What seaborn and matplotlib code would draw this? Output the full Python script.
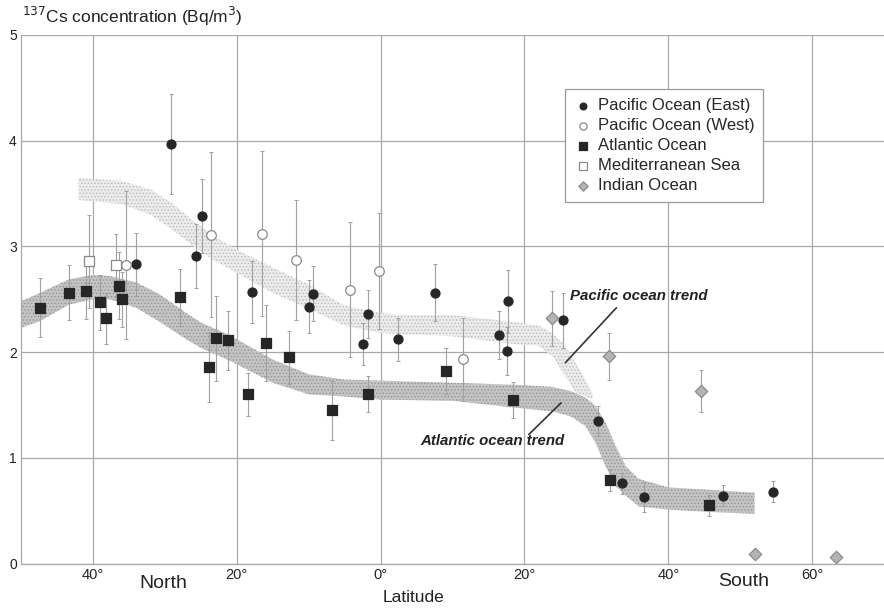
import numpy as np
import pandas as pd
import matplotlib
matplotlib.use('Agg')
import matplotlib.pyplot as plt
import seaborn as sns

# Measured 137Cs concentrations (Bq/m3) vs latitude (north negative, south positive)
pac_east_lat = [-29.1, -34.0, -24.8, -25.6, -17.9, -9.4, -9.9, -1.8, -2.5, 2.4,
                7.5, 16.5, 17.7, 17.6, 25.3, 30.3, 33.5, 36.6, 47.6, 54.6]
pac_east_val = [3.97, 2.83, 3.29, 2.91, 2.57, 2.55, 2.43, 2.36, 2.08, 2.12,
                2.56, 2.16, 2.48, 2.01, 2.30, 1.35, 0.76, 0.63, 0.64, 0.68]
pac_east_err = [0.47, 0.30, 0.35, 0.30, 0.29, 0.26, 0.25, 0.23, 0.20, 0.20,
                0.27, 0.23, 0.30, 0.23, 0.26, 0.14, 0.10, 0.14, 0.10, 0.10]

pac_west_lat = [-35.4, -23.6, -16.5, -11.7, -4.3, -0.25, 11.4]
pac_west_val = [2.82, 3.11, 3.12, 2.87, 2.59, 2.77, 1.93]
pac_west_err = [0.70, 0.78, 0.78, 0.57, 0.64, 0.55, 0.39]

atl_lat = [-47.4, -43.3, -41.0, -39.0, -38.2, -36.4, -36.0, -27.9, -23.9, -22.9,
           -21.2, -18.5, -16.0, -12.8, -6.8, -1.8, 9.1, 18.4, 31.9, 45.6]
atl_val = [2.42, 2.56, 2.58, 2.47, 2.32, 2.63, 2.50, 2.52, 1.86, 2.13,
           2.11, 1.60, 2.09, 1.95, 1.45, 1.60, 1.82, 1.55, 0.79, 0.55]
atl_err = [0.28, 0.26, 0.27, 0.26, 0.24, 0.32, 0.26, 0.27, 0.33, 0.40,
           0.28, 0.20, 0.36, 0.25, 0.28, 0.17, 0.22, 0.17, 0.10, 0.10]

med_lat = [-40.6, -36.8]
med_val = [2.86, 2.82]
med_err = [0.44, 0.30]

ind_lat = [23.9, 31.7, 44.5, 52.0, 63.3]
ind_val = [2.32, 1.96, 1.63, 0.09, 0.06]
ind_err = [0.26, 0.22, 0.20, 0.0, 0.0]

# Trend bands (lower / upper edge)
atl_trend_lat = [-50, -47.4, -43.3, -40, -37.7, -34, -30.8, -27, -25, -21, -15, -10, -5, 0,
                 10, 19.2, 23.9, 26.5, 28.5, 29.9, 31.3, 32.7, 34.1, 35.9, 40, 45, 52]
atl_trend_lo = [2.23, 2.29, 2.45, 2.50, 2.50, 2.42, 2.29, 2.12, 2.04, 1.92, 1.71, 1.60, 1.58, 1.55,
                1.54, 1.47, 1.44, 1.39, 1.30, 1.14, 0.92, 0.73, 0.64, 0.54, 0.51, 0.49, 0.47]
atl_trend_hi = [2.48, 2.56, 2.69, 2.73, 2.72, 2.66, 2.55, 2.37, 2.28, 2.16, 1.93, 1.79, 1.74, 1.73,
                1.71, 1.69, 1.67, 1.63, 1.57, 1.49, 1.33, 1.11, 0.92, 0.80, 0.72, 0.70, 0.67]

pac_trend_lat = [-42, -36, -32, -29, -26, -23, -20, -15, -10, -5, 0, 3, 10, 19.2,
                 22, 23.9, 25.7, 27.1, 28.5, 29.5]
pac_trend_lo = [3.44, 3.40, 3.30, 3.16, 3.00, 2.86, 2.75, 2.56, 2.41, 2.25, 2.18, 2.17, 2.15, 2.07,
                2.06, 1.96, 1.77, 1.62, 1.58, 1.55]
pac_trend_hi = [3.65, 3.62, 3.54, 3.41, 3.24, 3.09, 2.97, 2.80, 2.64, 2.44, 2.37, 2.35, 2.35, 2.28,
                2.25, 2.18, 2.06, 1.90, 1.74, 1.60]

x_ticks = [-40, -20, 0, 20, 40, 60]
x_tick_labels = ['40°', '20°', '0°', '20°', '40°', '60°']

# Build one long table
frames = []
for name, lat, val, err in [
    ('Pacific Ocean (East)', pac_east_lat, pac_east_val, pac_east_err),
    ('Pacific Ocean (West)', pac_west_lat, pac_west_val, pac_west_err),
    ('Atlantic Ocean', atl_lat, atl_val, atl_err),
    ('Mediterranean Sea', med_lat, med_val, med_err),
    ('Indian Ocean', ind_lat, ind_val, ind_err),
]:
    frames.append(pd.DataFrame({'lat': lat, 'conc': val, 'err': err, 'region': name}))
data = pd.concat(frames, ignore_index=True)

# marker, face colour, edge colour, size
styles = {
    'Pacific Ocean (East)': ('o', '#262626', '#262626', 42),
    'Pacific Ocean (West)': ('o', 'white', '#8a8a8a', 48),
    'Atlantic Ocean': ('s', '#262626', '#262626', 46),
    'Mediterranean Sea': ('s', 'white', '#8a8a8a', 56),
    'Indian Ocean': ('D', '#b4b4b4', '#8a8a8a', 40),
}

sns.set_theme(style='white')
plt.rcParams['font.family'] = ['Liberation Sans', 'DejaVu Sans']
plt.rcParams['hatch.linewidth'] = 0.6

fig = plt.figure(figsize=(8.84, 6.09), dpi=100)
ax = fig.add_axes([21 / 884, 1 - 563.5 / 609, 1 - 21 / 884, (563.5 - 35) / 609])

# trend bands
ax.fill_between(pac_trend_lat, pac_trend_lo, pac_trend_hi, facecolor='#ececec',
                edgecolor='#b9b9b9', hatch='.....', linewidth=0, zorder=1)
ax.fill_between(atl_trend_lat, atl_trend_lo, atl_trend_hi, facecolor='#c4c4c4',
                edgecolor='#939393', hatch='.....', linewidth=0, zorder=1.5)

for name, (mk, fc, ec, s) in styles.items():
    sub = data[data['region'] == name]
    eb = sub[sub['err'] > 0]
    ax.errorbar(eb['lat'], eb['conc'], yerr=eb['err'], fmt='none', ecolor='#a0a0a0',
                elinewidth=0.8, capsize=1.5, capthick=0.7, zorder=3)
    sns.scatterplot(data=sub, x='lat', y='conc', marker=mk, color=fc, edgecolor=ec,
                    linewidth=0.9, s=s, ax=ax, label=name, zorder=4)

# annotations for the trends
ax.plot([25.7, 32.8], [1.90, 2.42], color='#333333', lw=1.2, zorder=5)
ax.plot([20.6, 25.1], [1.22, 1.52], color='#333333', lw=1.2, zorder=5)
ax.text(26.3, 2.53, 'Pacific ocean trend', fontsize=10.8, fontweight='bold',
        fontstyle='italic', va='center', ha='left', color='#222222')
ax.text(5.5, 1.16, 'Atlantic ocean trend', fontsize=10.8, fontweight='bold',
        fontstyle='italic', va='center', ha='left', color='#222222')

ax.set_xlim(-50, 70)
ax.set_ylim(0, 5)
ax.set_xticks(x_ticks)
ax.set_xticklabels(x_tick_labels, fontsize=10.5)
ax.set_yticks([0, 1, 2, 3, 4, 5])
ax.set_yticklabels(['0', '1', '2', '3', '4', '5'], fontsize=10)
ax.tick_params(axis='both', length=0, pad=3, colors='#222222')
ax.grid(True, color='#a8a8a8', linewidth=0.9)
ax.set_axisbelow(True)
for side in ['top', 'right']:
    ax.spines[side].set_visible(False)
for side in ['left', 'bottom']:
    ax.spines[side].set_color('#a8a8a8')
    ax.spines[side].set_linewidth(0.9)
ax.set_xlabel('')
ax.set_ylabel('')

fig.text(22 / 884, 1 - 16 / 609, r'$^{137}$Cs concentration (Bq/m$^{3}$)', fontsize=12.5,
         ha='left', va='center', color='#222222')
fig.text(163 / 884, 1 - 583 / 609, 'North', fontsize=14, ha='center', va='center', color='#222222')
fig.text(744 / 884, 1 - 581 / 609, 'South', fontsize=14, ha='center', va='center', color='#222222')
fig.text(413 / 884, 1 - 598 / 609, 'Latitude', fontsize=12.5, ha='center', va='center', color='#222222')

leg = ax.legend(loc='upper left', bbox_to_anchor=(565 / 884, 1 - 89 / 609),
                bbox_transform=fig.transFigure, borderaxespad=0, fontsize=12,
                frameon=True, fancybox=False, edgecolor='#9a9a9a', framealpha=1,
                handletextpad=0.4, handlelength=1.0, labelspacing=0.3, borderpad=0.55,
                markerscale=0.75)
leg.get_frame().set_linewidth(0.9)

fig.savefig('out.png', dpi=100)
